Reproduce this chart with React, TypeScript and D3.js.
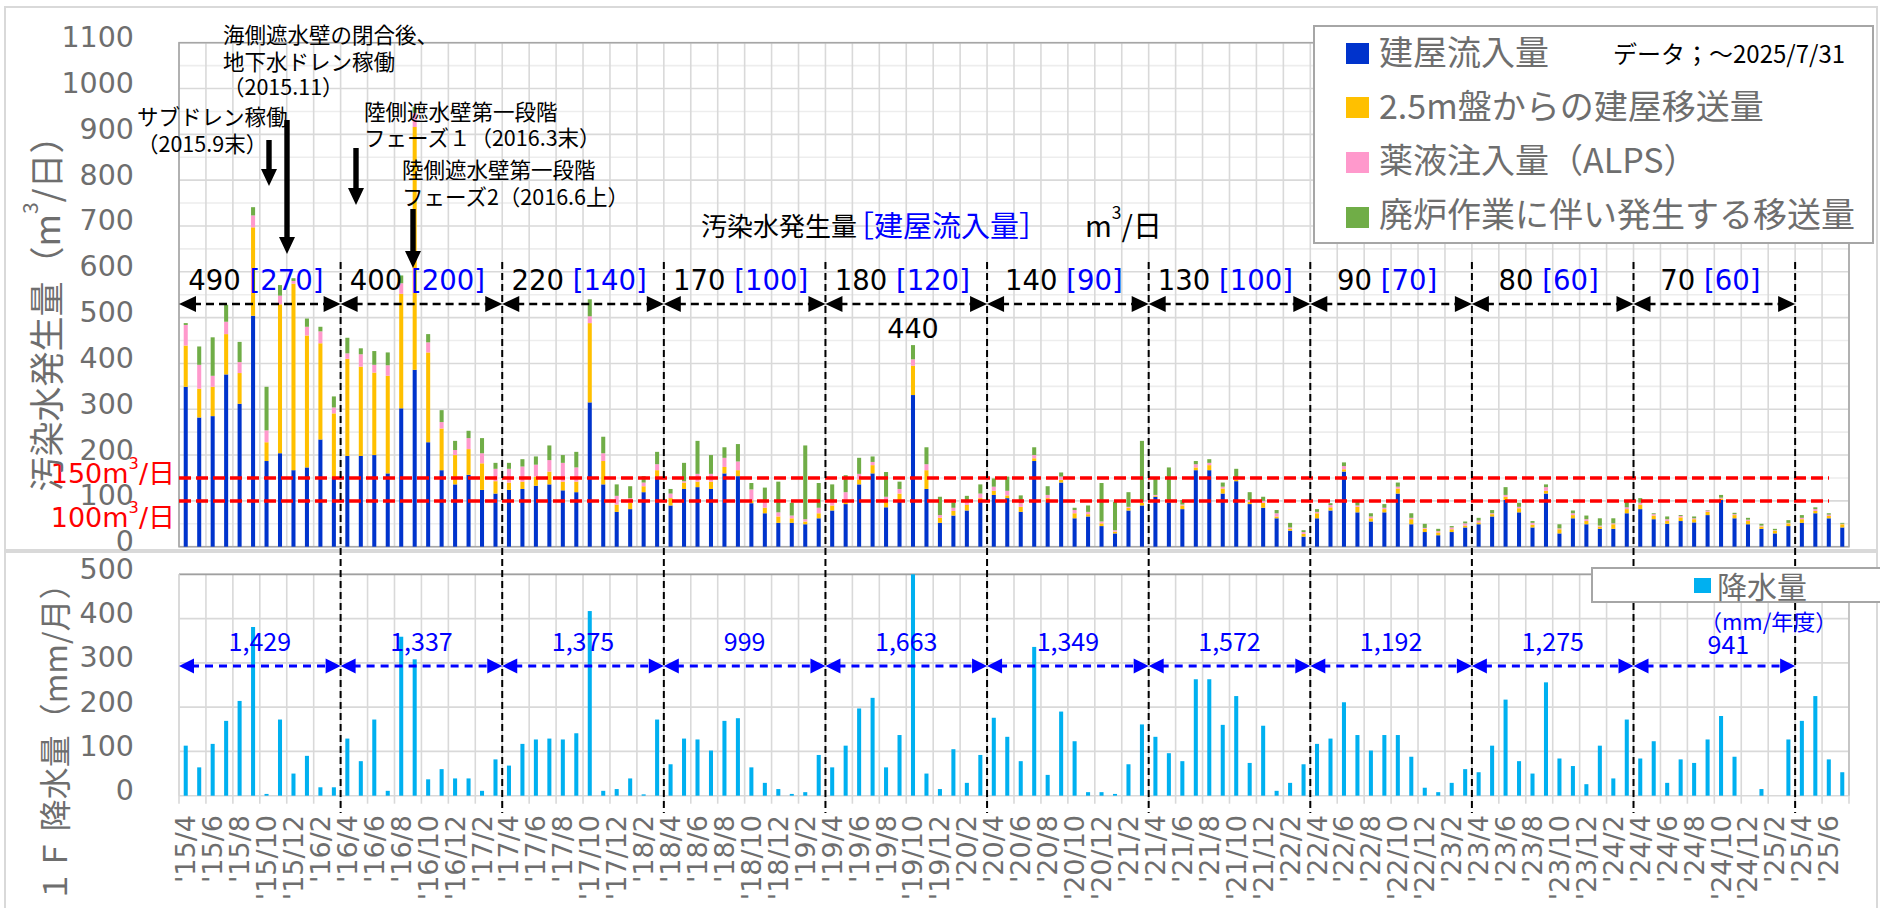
import React from 'react';
import * as d3 from 'd3';

// ---------- DATA ----------
// monthly, 2015/4 .. 2025/7
const inflow: number[] = [
  349, 282, 285, 376, 312, 504, 187, 204, 167, 173, 234, 149,
  198, 198, 200, 160, 302, 386, 228, 167, 136, 157, 124, 116,
  124, 126, 133, 136, 123, 119, 315, 136, 76, 82, 119, 153,
  90, 126, 130, 126, 160, 154, 95, 73, 52, 52, 49, 62,
  79, 93, 136, 160, 86, 98, 331, 126, 52, 68, 79, 98,
  113, 106, 76, 187, 98, 140, 62, 66, 45, 29, 79, 90,
  109, 97, 82, 167, 167, 116, 143, 93, 85, 62, 35, 22,
  62, 79, 164, 75, 55, 75, 116, 49, 32, 25, 32, 42,
  49, 66, 102, 75, 42, 116, 29, 62, 49, 39, 39, 73,
  82, 60, 50, 56, 53, 69, 102, 62, 49, 39, 29, 45,
  52, 73, 62, 42,
];
const transfer25m: number[] = [
  90, 63, 64, 88, 67, 193, 41, 325, 407, 288, 210, 142,
  212, 195, 180, 213, 250, 530, 196, 91, 64, 56, 58, 27,
  16, 16, 20, 28, 19, 23, 173, 51, 16, 14, 13, 14,
  16, 14, 12, 16, 14, 13, 6, 12, 14, 10, 6, 11,
  11, 9, 11, 18, 12, 18, 64, 41, 11, 10, 12, 8,
  9, 6, 11, 6, 8, 6, 11, 5, 6, 4, 6, 6,
  2, 2, 8, 6, 11, 11, 3, 5, 11, 4, 4, 6,
  11, 7, 5, 12, 7, 7, 11, 11, 7, 6, 6, 4,
  4, 5, 7, 9, 6, 6, 9, 7, 7, 5, 10, 9,
  10, 8, 6, 8, 7, 7, 3, 7, 7, 5, 6, 6,
  8, 5, 5, 7,
];
const chemical: number[] = [
  45, 52, 24, 27, 24, 26, 26, 19, 6, 19, 26, 13,
  12, 27, 17, 23, 23, 31, 22, 14, 11, 24, 22, 27,
  30, 33, 26, 25, 41, 31, 15, 17, 19, 10, 8, 13,
  10, 3, 17, 17, 20, 19, 24, 15, 9, 6, 5, 12,
  10, 17, 12, 7, 11, 10, 14, 13, 6, 7, 9, 10,
  9, 10, 8, 7, 7, 7, 7, 5, 4, 3, 2, 2,
  2, 2, 2, 7, 5, 4, 2, 4, 4, 7, 3, 4,
  3, 5, 7, 3, 4, 3, 4, 3, 2, 3, 4, 5,
  4, 2, 4, 3, 4, 8, 2, 4, 4, 2, 2, 4,
  4, 3, 4, 3, 2, 3, 2, 2, 3, 2, 1, 1,
  3, 4, 3, 1,
];
const decommission: number[] = [
  4, 40, 84, 37, 44, 18, 95, 23, 6, 18, 10, 24,
  34, 13, 30, 28, 17, 13, 18, 26, 20, 16, 33, 13,
  13, 16, 18, 32, 17, 34, 37, 36, 25, 26, 14, 27,
  10, 40, 72, 41, 23, 38, 14, 29, 67, 28, 161, 54,
  36, 37, 35, 12, 54, 16, 31, 37, 40, 12, 11, 20,
  18, 31, 17, 17, 19, 9, 5, 14, 84, 62, 32, 133,
  38, 72, 10, 7, 8, 9, 22, 17, 9, 7, 10, 4,
  6, 4, 8, 8, 7, 8, 9, 10, 9, 5, 3, 4,
  6, 7, 17, 9, 4, 6, 9, 6, 8, 16, 11, 16,
  10, 2, 6, 2, 4, 1, 6, 3, 4, 4, 3, 6,
  6, 4, 3, 2,
];
const rainfall: number[] = [
  113, 64, 117, 169, 214, 381, 4, 172, 50, 90, 19, 19,
  129, 78, 172, 11, 359, 308, 37, 60, 39, 39, 11, 82,
  68, 117, 127, 129, 127, 141, 417, 11, 15, 39, 3, 172,
  71, 129, 127, 102, 169, 175, 64, 29, 15, 4, 8, 92,
  64, 113, 197, 221, 64, 137, 500, 50, 15, 105, 29, 92,
  176, 133, 78, 336, 47, 190, 123, 8, 8, 4, 71, 161,
  133, 96, 78, 263, 263, 160, 225, 74, 158, 11, 29, 71,
  117, 129, 211, 137, 102, 137, 137, 88, 18, 8, 29, 60,
  53, 113, 217, 78, 50, 256, 84, 67, 26, 113, 39, 172,
  84, 123, 29, 82, 74, 127, 180, 88, 0, 15, 0, 127,
  169, 225, 82, 53,
];

const fyTotal: number[] = [490, 400, 220, 170, 180, 140, 130, 90, 80, 70];
const fyInflow: number[] = [270, 200, 140, 100, 120, 90, 100, 70, 60, 60];
const fyRain: number[] = [1429, 1337, 1375, 999, 1663, 1349, 1572, 1192, 1275, 941];

const seriesKeys = ['inflow', 'transfer25m', 'chemical', 'decommission'] as const;
const seriesNames: string[] = ['建屋流入量', '2.5m盤からの建屋移送量', '薬液注入量（ALPS）', '廃炉作業に伴い発生する移送量'];
const seriesColors: string[] = ['#0033CC', '#FFC000', '#FF99CC', '#70AD47'];
const rainColor = '#00B0F0';

const upperTicks: number[] = d3.range(0, 1101, 100);
const lowerTicks: number[] = d3.range(0, 501, 100);
const refLines: number[] = [150, 100];

// category labels (month)
const START_YEAR = 2015, START_MONTH = 4;
const months: { y: number; m: number }[] = inflow.map((_, i) => {
  const t = START_MONTH - 1 + i;
  return { y: START_YEAR + Math.floor(t / 12), m: (t % 12) + 1 };
});

const notes = [
  { lines: ['海側遮水壁の閉合後、', '地下水ドレン稼働', '（2015.11）'] },
  { lines: ['サブドレン稼働', '（2015.9末）'] },
  { lines: ['陸側遮水壁第一段階', 'フェーズ１（2016.3末）'] },
  { lines: ['陸側遮水壁第一段階', 'フェーズ2（2016.6上）'] },
];

// ---------- LAYOUT ----------
const W = 1880, H = 908;
const X0 = 179, X1 = 1849;
const U_TOP = 42.7, U_BASE = 546.7;
const L_TOP = 574.3, L_BASE = 795.7;
const GRAY = '#6e6e6e';
const JP = "'Noto Sans CJK JP', sans-serif";
const LAT = "'DejaVu Sans', 'Noto Sans CJK JP', sans-serif";

const noteLayout = [
  { x: 223, y: [33, 60, 85] },
  { x: 137, y: [115, 142] },
  { x: 364, y: [110, 136] },
  { x: 402, y: [168, 195] },
];
const noteArrows = [
  { x: 269, y1: 140, y2: 186 },
  { x: 287, y1: 120, y2: 254 },
  { x: 356, y1: 148, y2: 205 },
  { x: 413, y1: 209, y2: 268 },
];

function Sup({ children }: { children: React.ReactNode }) {
  return <tspan baselineShift="super" fontSize="60%">{children}</tspan>;
}

export default function App() {
  const N = inflow.length;
  const x = d3.scaleBand<number>().domain(d3.range(N)).range([X0, X1]).paddingInner(0.7).paddingOuter(0.35);
  const step = x.step();
  const bw = x.bandwidth();
  const bx = (i: number) => X0 + i * step; // band boundary
  const yU = d3.scaleLinear().domain([0, 1100]).range([U_BASE, U_TOP]);
  const yL = d3.scaleLinear().domain([0, 500]).range([L_BASE, L_TOP]);

  const rows = inflow.map((v, i) => ({
    inflow: v, transfer25m: transfer25m[i], chemical: chemical[i], decommission: decommission[i],
  }));
  const stacked = d3.stack<any>().keys(seriesKeys as unknown as string[])(rows);

  const fyCount = fyTotal.length;
  const fyStarts = d3.range(fyCount).map((k) => k * 12);
  const boundaries = d3.range(1, fyCount + 1).map((k) => k * 12);

  const upperGrid = d3.range(0, 1101, 50);
  const vGrid = d3.range(0, N + 1, 2);

  const arrowY = 304;
  const rainArrowY = 666;
  const fmt = d3.format(',');

  const black = '#000';
  const blue = '#0000FF';

  return (
    <svg width={W} height={H} style={{ position: 'absolute', left: 0, top: 0, background: '#fff' }} fontFamily={LAT}>
      <rect x={0} y={0} width={W} height={H} fill="#fff" />
      {/* chart area frames */}
      <rect x={5} y={7} width={1872} height={543} fill="#fff" stroke="#D9D9D9" strokeWidth={2} />
      <rect x={5} y={552} width={1872} height={370} fill="#fff" stroke="#D9D9D9" strokeWidth={2} />

      {/* ===== upper gridlines ===== */}
      {upperGrid.map((v) => (
        <line key={'ug' + v} x1={X0} x2={X1} y1={yU(v)} y2={yU(v)} stroke={v % 100 === 0 ? '#D9D9D9' : '#EDEDED'} strokeWidth={1.6} />
      ))}
      {vGrid.map((i) => (
        <line key={'uv' + i} x1={bx(i)} x2={bx(i)} y1={U_TOP} y2={U_BASE} stroke="#D9D9D9" strokeWidth={1.6} />
      ))}
      <rect x={X0} y={U_TOP} width={X1 - X0} height={U_BASE - U_TOP} fill="none" stroke="#A6A6A6" strokeWidth={1.6} />

      {/* ===== lower gridlines ===== */}
      {lowerTicks.map((v) => (
        <line key={'lg' + v} x1={X0} x2={X1} y1={yL(v)} y2={yL(v)} stroke="#D9D9D9" strokeWidth={1.6} />
      ))}
      {vGrid.map((i) => (
        <line key={'lv' + i} x1={bx(i)} x2={bx(i)} y1={L_TOP} y2={L_BASE + 8} stroke="#D9D9D9" strokeWidth={1.6} />
      ))}
      <line x1={X0} x2={X1} y1={L_TOP} y2={L_TOP} stroke="#A0A0A0" strokeWidth={1.8} />
      <line x1={X1} x2={X1} y1={L_TOP} y2={L_BASE} stroke="#BFBFBF" strokeWidth={1.6} />
      <line x1={X0} x2={X0} y1={L_TOP} y2={L_BASE} stroke="#D9D9D9" strokeWidth={1.6} />

      {/* ===== stacked bars ===== */}
      {stacked.map((s, si) => (
        <g key={'s' + si} fill={seriesColors[si]}>
          {s.map((d, i) => (
            <rect key={i} x={x(i)} width={bw} y={yU(d[1])} height={Math.max(0, yU(d[0]) - yU(d[1]))} />
          ))}
        </g>
      ))}

      {/* rainfall bars */}
      <g fill={rainColor}>
        {rainfall.map((v, i) => (
          <rect key={i} x={x(i)} width={bw} y={yL(Math.min(v, 500))} height={yL(0) - yL(Math.min(v, 500))} />
        ))}
      </g>

      {/* red reference lines */}
      {refLines.map((v) => (
        <line key={'rl' + v} x1={X0} x2={1829} y1={yU(v)} y2={yU(v)} stroke="#FF0000" strokeWidth={3.5} strokeDasharray="12 5" />
      ))}

      {/* fiscal boundary dashed verticals */}
      {boundaries.map((b) => (
        <line key={'fb' + b} x1={bx(b)} x2={bx(b)} y1={262} y2={813} stroke={black} strokeWidth={2} strokeDasharray="7 4" />
      ))}

      {/* upper FY arrows + labels */}
      {fyStarts.map((s, k) => {
        const xa = bx(s), xb = bx(s + 12);
        const cx = (xa + xb) / 2;
        return (
          <g key={'fa' + k}>
            <line x1={xa + 14} x2={xb - 14} y1={arrowY} y2={arrowY} stroke={black} strokeWidth={2.6} strokeDasharray="8 5" />
            <path d={`M${xa},${arrowY} L${xa + 17},${arrowY - 8} L${xa + 17},${arrowY + 8} Z`} fill={black} />
            <path d={`M${xb},${arrowY} L${xb - 17},${arrowY - 8} L${xb - 17},${arrowY + 8} Z`} fill={black} />
            <text x={cx - 4} y={280} textAnchor="middle" dominantBaseline="central" fontSize={27.5}>
              <tspan fill={black}>{fyTotal[k]} </tspan>
              <tspan fill={blue}>[{fyInflow[k]}]</tspan>
            </text>
          </g>
        );
      })}

      {/* lower FY arrows + labels */}
      {fyStarts.map((s, k) => {
        const xa = bx(s), xb = bx(s + 12);
        const cx = (xa + xb) / 2;
        return (
          <g key={'ra' + k}>
            <line x1={xa + 12} x2={xb - 12} y1={rainArrowY} y2={rainArrowY} stroke={blue} strokeWidth={3} strokeDasharray="8 6" />
            <path d={`M${xa},${rainArrowY} L${xa + 15},${rainArrowY - 7.5} L${xa + 15},${rainArrowY + 7.5} Z`} fill={blue} />
            <path d={`M${xb},${rainArrowY} L${xb - 15},${rainArrowY - 7.5} L${xb - 15},${rainArrowY + 7.5} Z`} fill={blue} />
            <text x={k === fyCount - 1 ? cx + 14 : cx} y={k === fyCount - 1 ? 643 : 640} textAnchor="middle" dominantBaseline="central" fontSize={25} fill={blue} fontFamily={JP}>
              {fmt(fyRain[k])}
            </text>
          </g>
        );
      })}
      <text x={1700} y={620} fontSize={22} fill={blue} fontFamily={JP} dominantBaseline="central">（mm/年度）</text>

      {/* axis labels */}
      {upperTicks.map((v) => (
        <text key={'ut' + v} x={134} y={yU(v) - 5} textAnchor="end" dominantBaseline="central" fontSize={28.5} fill={GRAY}>{v}</text>
      ))}
      {lowerTicks.map((v) => (
        <text key={'lt' + v} x={134} y={yL(v) - 5} textAnchor="end" dominantBaseline="central" fontSize={28.5} fill={GRAY}>{v}</text>
      ))}

      {/* red labels */}
      {refLines.map((v, k) => (
        <text key={'rt' + v} x={175} y={k === 0 ? 473 : 517} textAnchor="end" dominantBaseline="central" fontSize={27} fill="#FF0000">
          {v}m<Sup>3</Sup>/日
        </text>
      ))}

      {/* y titles */}
      <text transform="translate(44,305) rotate(-90)" textAnchor="middle" dominantBaseline="central" fontSize={35} fill={GRAY} fontFamily={JP}>
        汚染水発生量（m<Sup>3</Sup>/日）
      </text>
      <text transform="translate(53,735) rotate(-90)" textAnchor="middle" dominantBaseline="central" fontSize={32} fill={GRAY} fontFamily={JP}>
        １Ｆ 降水量（mm/月）
      </text>

      {/* x labels */}
      {months.map((mo, i) => (i % 2 === 0 ? (
        <text key={'xl' + i} transform={`translate(${x(i)! + bw / 2},${815}) rotate(-90)`} textAnchor="end" dominantBaseline="central" fontSize={27} fill={GRAY}>
          {`'${String(mo.y).slice(2)}/${mo.m}`}
        </text>
      ) : null))}

      {/* header text */}
      <text y={224} dominantBaseline="central" fontFamily={JP}>
        <tspan x={701} fill={black} fontSize={26}>汚染水発生量</tspan>
        <tspan x={845} fill={blue} fontSize={29}>［建屋流入量］</tspan>
        <tspan x={1085} fill={black} fontSize={29}>m<Sup>3</Sup>/日</tspan>
      </text>

      {/* 440 label */}
      <text x={x(54)! + bw / 2} y={328} textAnchor="middle" dominantBaseline="central" fontSize={27}>
        {d3.sum(seriesKeys.map((k) => (rows[54] as any)[k]))}
      </text>

      {/* annotations */}
      {notes.map((n, k) => (
        <g key={'n' + k}>
          {n.lines.map((t, j) => (
            <text key={j} x={noteLayout[k].x} y={noteLayout[k].y[j]} dominantBaseline="central" fontSize={21.5} fontFamily={JP} fill={black}>{t}</text>
          ))}
        </g>
      ))}
      {noteArrows.map((a, k) => (
        <path key={'na' + k} fill={black}
          d={`M${a.x - 2.7},${a.y1} L${a.x + 2.7},${a.y1} L${a.x + 2.7},${a.y2 - 17} L${a.x + 8},${a.y2 - 17} L${a.x},${a.y2} L${a.x - 8},${a.y2 - 17} L${a.x - 2.7},${a.y2 - 17} Z`} />
      ))}

      {/* upper legend */}
      <rect x={1314} y={26} width={559} height={217} fill="#fff" stroke="#A6A6A6" strokeWidth={2} />
      {seriesNames.map((nm, k) => (
        <g key={'lg' + k}>
          <rect x={1346} y={[43, 97, 152, 207][k]} width={23} height={21} fill={seriesColors[k]} />
          <text x={1379} y={[50, 104, 158, 212][k]} dominantBaseline="central" fontSize={34} fill={GRAY} fontFamily={JP}>{nm}</text>
        </g>
      ))}
      <text x={1613} y={52} dominantBaseline="central" fontSize={24} fill={black} fontFamily={JP}>データ；～2025/7/31</text>

      {/* lower legend */}
      <rect x={1592} y={568} width={300} height={34} fill="#fff" stroke="#A6A6A6" strokeWidth={2} />
      <rect x={1694} y={578} width={17} height={15} fill={rainColor} />
      <text x={1717} y={585} dominantBaseline="central" fontSize={30} fill={GRAY} fontFamily={JP}>降水量</text>
    </svg>
  );
}
